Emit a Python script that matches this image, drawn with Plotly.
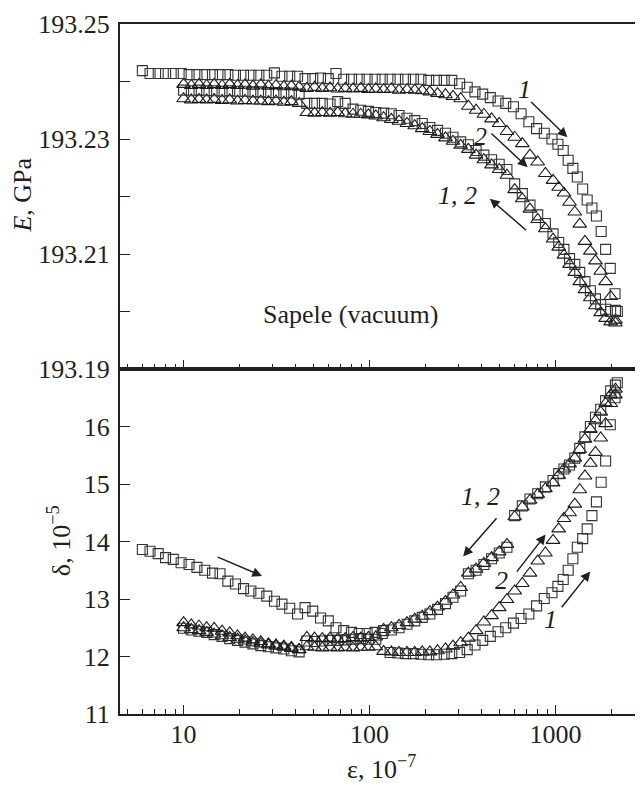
import plotly.graph_objects as go
from plotly.subplots import make_subplots

# ---------------- data ----------------
# strain amplitude, 10^-7 : sweep 1 forward (squares)
eps_1f = [6.0, 6.6, 7.3, 8.0, 8.8, 9.7, 10.7, 11.8, 13.0, 14.3, 15.7, 17.3, 19.0,
          21, 23, 25.4, 28, 30.8, 33.8, 37.2, 41, 45, 49.5, 54.5, 60, 66, 72.6, 80, 88, 97,
          107, 117, 129, 142, 156, 172, 189, 208, 229, 252, 277, 305, 335, 369, 406, 446,
          491, 540, 594, 653, 719, 791, 870, 957,
          1030, 1100, 1170, 1240, 1310, 1400, 1480, 1570, 1660, 1760, 1860, 1970, 2090, 2150]
# strain amplitude grid for sweep 2 forward and both reverse sweeps
eps_b = [10.0, 11.0, 12.1, 13.3, 14.6, 16.1, 17.7, 19.5, 21.4, 23.6, 26, 28.6, 31.4, 34.6, 38, 41.8,
         46, 50.6, 55.7, 61.3, 67.4, 74, 81.5, 89.7, 98.6, 108,
         119, 131, 144, 159, 175, 192, 211, 232, 256, 281, 309, 340, 374, 412, 453, 498, 548,
         603, 663, 729, 802, 882, 970,
         1040, 1110, 1190, 1270, 1350, 1440, 1540, 1640, 1750, 1860, 1980, 2100]

# Young's modulus E, GPa
E_1f = [193.2419, 193.2414, 193.2414, 193.2414, 193.2414, 193.2414, 193.2412, 193.2412, 193.2412,
        193.2412, 193.2412, 193.2412, 193.2411, 193.2411, 193.2411, 193.2411, 193.2411, 193.2415,
        193.2409, 193.2409, 193.2409, 193.2405, 193.2405, 193.2406, 193.2405, 193.2414, 193.2404,
        193.2404, 193.2404, 193.2404, 193.2404, 193.2404, 193.2404, 193.2404, 193.2404, 193.2404,
        193.2404, 193.2402, 193.2402, 193.2402, 193.2402, 193.2396, 193.2390, 193.2382, 193.2378,
        193.2372, 193.2366, 193.2362, 193.2356, 193.2344, 193.2330, 193.2318, 193.2310, 193.2300,
        193.2291, 193.2280, 193.2263, 193.2249, 193.2234, 193.2213, 193.2194, 193.2180, 193.2166,
        193.2139, 193.2108, 193.2075, 193.2031, 193.2000]
E_2f = [193.2395, 193.2393, 193.2395, 193.2393, 193.2395, 193.2393, 193.2395, 193.2393, 193.2394,
        193.2392, 193.2394, 193.2392, 193.2393, 193.2391, 193.2392, 193.2390,
        193.2388, 193.2390, 193.2388, 193.2389, 193.2387, 193.2388, 193.2387, 193.2388, 193.2386,
        193.2387, 193.2386, 193.2387, 193.2385, 193.2386, 193.2385, 193.2384, 193.2382, 193.2379,
        193.2377, 193.2374, 193.2370, 193.2357, 193.2350, 193.2343, 193.2335, 193.2327, 193.2313,
        193.2303, 193.2292, 193.2272, 193.2260, 193.2240, 193.2228,
        193.2216, 193.2206, 193.2190, 193.2173, 193.2152, 193.2122, 193.2105, 193.2088, 193.2070,
        193.2052, 193.2026, 193.1980]
E_1r = [193.2385, 193.2384, 193.2385, 193.2384, 193.2384, 193.2383, 193.2384, 193.2383, 193.2383,
        193.2382, 193.2382, 193.2381, 193.2381, 193.2380, 193.2380, 193.2378,
        193.2362, 193.2362, 193.2362, 193.2361, 193.2365, 193.2362, 193.2352, 193.2350, 193.2348,
        193.2346, 193.2345, 193.2344, 193.2341, 193.2336, 193.2332, 193.2327, 193.2320, 193.2315,
        193.2310, 193.2303, 193.2295, 193.2290, 193.2280, 193.2272, 193.2264, 193.2256, 193.2247,
        193.2222, 193.2205, 193.2185, 193.2168, 193.2153, 193.2135,
        193.2120, 193.2108, 193.2092, 193.2082, 193.2068, 193.2052, 193.2036, 193.2022, 193.2012,
        193.2004, 193.2000, 193.2002]
E_2r = [193.2370, 193.2368, 193.2369, 193.2368, 193.2369, 193.2367, 193.2368, 193.2366, 193.2367,
        193.2366, 193.2366, 193.2365, 193.2366, 193.2364, 193.2365, 193.2362,
        193.2346, 193.2345, 193.2346, 193.2345, 193.2346, 193.2344, 193.2343, 193.2343, 193.2342,
        193.2340, 193.2337, 193.2334, 193.2331, 193.2327, 193.2323, 193.2318, 193.2313, 193.2308,
        193.2302, 193.2296, 193.2289, 193.2282, 193.2272, 193.2264, 193.2255, 193.2247, 193.2237,
        193.2212, 193.2196, 193.2178, 193.2160, 193.2144, 193.2126,
        193.2112, 193.2098, 193.2082, 193.2068, 193.2052, 193.2038, 193.2024, 193.2010, 193.1998,
        193.1988, 193.1982, 193.1985]

# decrement delta, 10^-5
d_1f = [13.86, 13.83, 13.79, 13.72, 13.69, 13.63, 13.60, 13.55, 13.50, 13.45, 13.44, 13.31, 13.26,
        13.18, 13.14, 13.10, 13.05, 12.96, 12.91, 12.84, 12.74, 12.85, 12.79, 12.67, 12.62, 12.50,
        12.45, 12.42, 12.40, 12.40, 12.42, 12.40, 12.07, 12.06, 12.05, 12.05, 12.04, 12.03, 12.03,
        12.04, 12.05, 12.07, 12.12, 12.20, 12.28, 12.35, 12.43, 12.50, 12.58, 12.66, 12.74, 12.88,
        13.01, 13.11, 13.22, 13.34, 13.50, 13.70, 13.90, 14.05, 14.22, 14.45, 14.69, 15.03, 15.40,
        16.03, 16.50, 16.76]
d_2f = [12.59, 12.55, 12.53, 12.50, 12.49, 12.44, 12.41, 12.36, 12.32, 12.29, 12.26, 12.22, 12.20,
        12.18, 12.16, 12.12,
        12.33, 12.32, 12.31, 12.32, 12.30, 12.31, 12.33, 12.32, 12.33, 12.34,
        12.09, 12.08, 12.07, 12.07, 12.07, 12.08, 12.08, 12.10, 12.13, 12.18, 12.24, 12.32, 12.45,
        12.60, 12.71, 12.85, 12.99, 13.14, 13.27, 13.45, 13.66, 13.80, 14.02,
        14.22, 14.40, 14.50, 14.65, 14.90, 15.14, 15.36, 15.55, 15.80, 16.05, 16.40, 16.55]
d_1r = [12.49, 12.46, 12.44, 12.42, 12.38, 12.35, 12.31, 12.28, 12.25, 12.22, 12.19, 12.17, 12.15,
        12.13, 12.10, 12.08,
        12.27, 12.26, 12.27, 12.28, 12.28, 12.29, 12.30, 12.31, 12.30, 12.30,
        12.45, 12.46, 12.50, 12.56, 12.62, 12.68, 12.74, 12.82, 12.92, 13.03, 13.14, 13.44, 13.50,
        13.60, 13.70, 13.80, 13.90, 14.45, 14.62, 14.74, 14.83, 14.95, 15.06,
        15.18, 15.26, 15.33, 15.45, 15.62, 15.82, 16.00, 16.16, 16.30, 16.45, 16.62, 16.72]
d_2r = [12.50, 12.47, 12.45, 12.42, 12.39, 12.36, 12.33, 12.30, 12.27, 12.24, 12.22, 12.20, 12.18,
        12.16, 12.14, 12.12,
        12.17, 12.16, 12.15, 12.16, 12.15, 12.16, 12.15, 12.16, 12.16, 12.17,
        12.47, 12.50, 12.54, 12.59, 12.65, 12.70, 12.78, 12.86, 12.96, 13.07, 13.20, 13.45, 13.52,
        13.62, 13.72, 13.82, 13.95, 14.43, 14.60, 14.72, 14.82, 14.92, 15.02,
        15.15, 15.26, 15.35, 15.45, 15.60, 15.78, 15.95, 16.10, 16.25, 16.40, 16.55, 16.65]

E_ticks = [193.19, 193.20, 193.21, 193.22, 193.23, 193.24, 193.25]
E_ticktext = ["193.19", "", "193.21", "", "193.23", "", "193.25"]
d_ticks = [11, 12, 13, 14, 15, 16]
x_major = [10, 100, 1000]
x_minor = [5, 6, 7, 8, 9, 20, 30, 40, 50, 60, 70, 80, 90,
           200, 300, 400, 500, 600, 700, 800, 900, 2000]

# ---------------- figure ----------------
FONT = "Liberation Serif"
INK = "#231f20"
FS = 26

fig = make_subplots(rows=2, cols=1, shared_xaxes=True, vertical_spacing=0)

sq = dict(symbol="square-open", size=10, color="#333333", line=dict(width=1.1))
tri = dict(symbol="triangle-up-open", size=12, color="#1a1a1a", line=dict(width=1.1))

for row, (v1f, v2f, v1r, v2r) in enumerate([(E_1f, E_2f, E_1r, E_2r), (d_1f, d_2f, d_1r, d_2r)], start=1):
    fig.add_trace(go.Scatter(x=eps_b, y=v2r, mode="markers", marker=tri), row=row, col=1)
    fig.add_trace(go.Scatter(x=eps_b, y=v1r, mode="markers", marker=sq), row=row, col=1)
    fig.add_trace(go.Scatter(x=eps_b, y=v2f, mode="markers", marker=tri), row=row, col=1)
    fig.add_trace(go.Scatter(x=eps_1f, y=v1f, mode="markers", marker=sq), row=row, col=1)

xcommon = dict(type="log", range=[0.658, 3.449], showline=True, mirror=True, linecolor=INK,
               linewidth=2, ticks="inside", ticklen=9, tickwidth=1.4, tickcolor=INK,
               tickvals=x_major, ticktext=[str(v) for v in x_major], showgrid=False, zeroline=False,
               tickfont=dict(family=FONT, size=FS, color=INK), ticklabeloverflow="allow",
               minor=dict(ticks="inside", ticklen=5, tickwidth=1.2, tickcolor=INK,
                          tickmode="array", tickvals=x_minor, showgrid=False))
fig.update_xaxes(**xcommon)
fig.update_xaxes(showticklabels=False, row=1, col=1)
fig.update_xaxes(showticklabels=True, ticklabelstandoff=-4, row=2, col=1)

ycommon = dict(showline=True, mirror=True, linecolor=INK, linewidth=2, ticks="inside", ticklen=10,
               tickwidth=1.4, tickcolor=INK, showgrid=False, zeroline=False, ticklabelstandoff=3,
               tickfont=dict(family=FONT, size=FS, color=INK), ticklabeloverflow="allow")
fig.update_yaxes(**ycommon)
fig.update_yaxes(range=[193.19, 193.25], tickvals=E_ticks, ticktext=E_ticktext, row=1, col=1)
fig.update_yaxes(range=[11, 17], tickvals=d_ticks, ticktext=[str(v) for v in d_ticks], row=2, col=1)

ann = []
lab = dict(showarrow=False, xanchor="center", yanchor="middle",
           font=dict(family=FONT, size=FS, color=INK))

def arrow(xr, yr, hx, hy, tx, ty):
    return dict(xref=xr, yref=yr, axref=xr, ayref=yr, x=hx, y=hy, ax=tx, ay=ty, text="",
                showarrow=True, arrowhead=2, arrowsize=1.3, arrowwidth=1.5, arrowcolor=INK)

# top panel
ann.append(dict(xref="x", yref="y", x=2.834, y=193.2386, text="<i>1</i>", **lab))
ann.append(dict(xref="x", yref="y", x=2.594, y=193.2305, text="<i>2</i>", **lab))
ann.append(dict(xref="x", yref="y", x=2.471, y=193.2201, text="<i>1</i>, <i>2</i>", **lab))
ann.append(dict(xref="x", yref="y", x=1.898, y=193.1995, text="Sapele (vacuum)", **lab))
ann.append(arrow("x", "y", 3.064, 193.2303, 2.861, 193.2367))
ann.append(arrow("x", "y", 2.850, 193.2251, 2.647, 193.2312))
ann.append(arrow("x", "y", 2.647, 193.2196, 2.850, 193.2139))
# bottom panel
ann.append(dict(xref="x2", yref="y2", x=2.599, y=14.79, text="<i>1</i>, <i>2</i>", **lab))
ann.append(dict(xref="x2", yref="y2", x=2.711, y=13.33, text="<i>2</i>", **lab))
ann.append(dict(xref="x2", yref="y2", x=2.973, y=12.64, text="<i>1</i>", **lab))
ann.append(arrow("x2", "y2", 2.503, 13.74, 2.690, 14.43))
ann.append(arrow("x2", "y2", 2.947, 14.12, 2.786, 13.45))
ann.append(arrow("x2", "y2", 3.187, 13.48, 3.027, 12.83))
ann.append(arrow("x2", "y2", 1.422, 13.40, 1.176, 13.74))
# axis titles
ann.append(dict(xref="paper", yref="paper", x=-0.188, y=0.752, text="<i>E</i>, GPa", textangle=-90,
                **lab))
ann.append(dict(xref="paper", yref="paper", x=-0.115, y=0.251, text="δ, 10<sup>−5</sup>",
                textangle=-90, **lab))
ann.append(dict(xref="paper", yref="paper", x=0.503, y=-0.078, text="ε, 10<sup>−7</sup>", **lab))

# the page body adds an 8 px offset, so the figure is sized/margined to land the axes
# where they sit in the reference
fig.update_layout(width=635, height=777, margin=dict(l=112, r=2, t=13, b=71),
                  plot_bgcolor="white", paper_bgcolor="white", showlegend=False,
                  font=dict(family=FONT, size=FS, color=INK), annotations=ann)

fig.write_html("out.html")
